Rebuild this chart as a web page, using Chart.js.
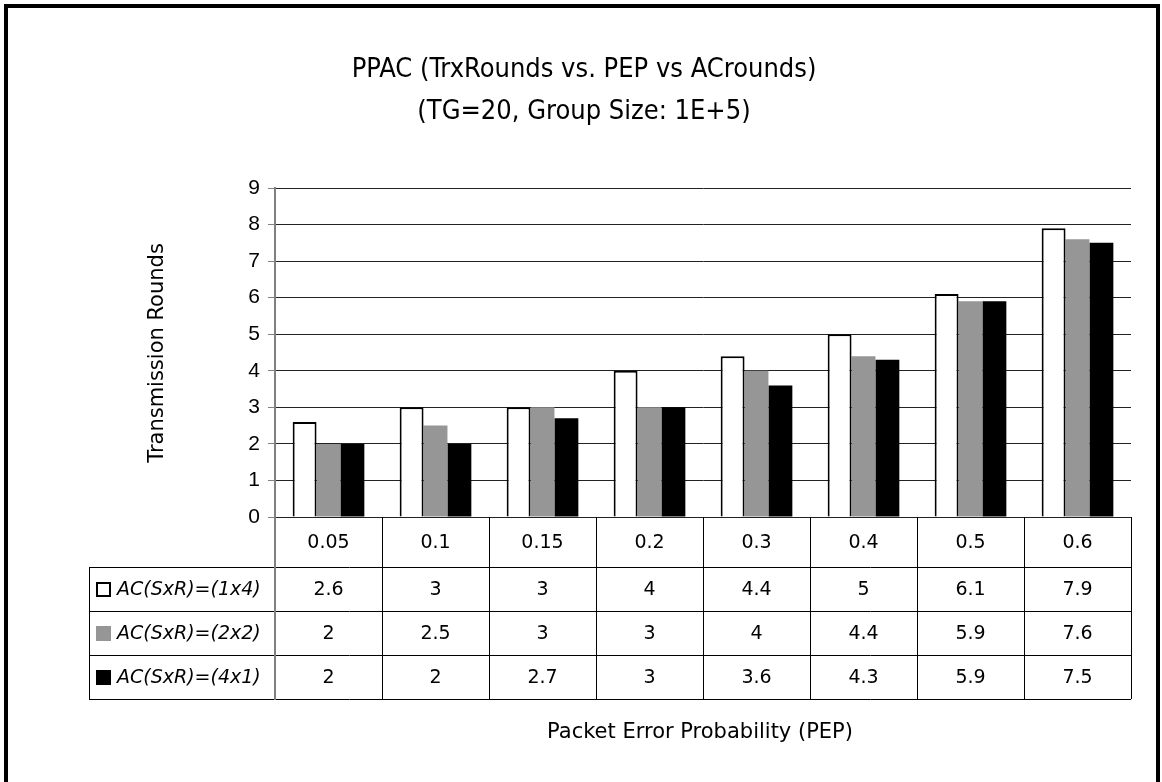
<!DOCTYPE html>
<html>
<head>
<meta charset="utf-8">
<script src="https://cdn.jsdelivr.net/npm/chart.js@4"></script>
<style>
  html, body { margin: 0; padding: 0; background: #fff; }
  #wrap { width: 1162px; height: 782px; }
</style>
</head>
<body>
<div id="wrap"><canvas id="chart" width="1162" height="782"></canvas></div>
<script>
// data
const pepLabels = ['0.05', '0.1', '0.15', '0.2', '0.3', '0.4', '0.5', '0.6'];
const seriesNames = ['AC(SxR)=(1x4)', 'AC(SxR)=(2x2)', 'AC(SxR)=(4x1)'];
const ac1x4 = [2.6, 3, 3, 4, 4.4, 5, 6.1, 7.9];
const ac2x2 = [2, 2.5, 3, 3, 4, 4.4, 5.9, 7.6];
const ac4x1 = [2, 2, 2.7, 3, 3.6, 4.3, 5.9, 7.5];
const yTicks = [0, 1, 2, 3, 4, 5, 6, 7, 8, 9];
const titleLines = ['PPAC (TrxRounds vs. PEP vs ACrounds)', '(TG=20, Group Size: 1E+5)'];
const yTitle = 'Transmission Rounds';
const xTitle = 'Packet Error Probability (PEP)';

const fills = ['#ffffff', '#969696', '#000000'];
const comic = '"DejaVu Sans", sans-serif';

// table under the plot, drawn from the chart's own x scale
const tablePlugin = {
  id: 'dataTable',
  afterDraw(chart) {
    const ctx = chart.ctx;
    const area = chart.chartArea;
    const xs = chart.scales.x;
    const n = pepLabels.length;
    const cw = (area.right - area.left) / n;
    const top = area.bottom;
    const headH = 50, rowH = 44;
    const legLeft = 89;
    const rows = [ac1x4, ac2x2, ac4x1];
    const bottom = top + headH + rowH * rows.length;

    ctx.save();
    ctx.lineWidth = 1;
    ctx.strokeStyle = '#000';
    // horizontal lines
    for (let r = 0; r <= rows.length; r++) {
      const y = Math.round(top + headH + r * rowH) + 0.5;
      ctx.beginPath();
      ctx.moveTo(legLeft, y);
      ctx.lineTo(area.right, y);
      ctx.stroke();
    }
    // vertical lines between categories
    for (let i = 1; i <= n; i++) {
      const x = Math.round(area.left + i * cw) + 0.5;
      ctx.beginPath();
      ctx.moveTo(x, top);
      ctx.lineTo(x, bottom);
      ctx.stroke();
    }
    // left edge of legend column
    ctx.beginPath();
    ctx.moveTo(legLeft + 0.5, top + headH);
    ctx.lineTo(legLeft + 0.5, bottom);
    ctx.stroke();
    // y axis continues down through the table
    ctx.strokeStyle = '#808080';
    ctx.lineWidth = 2;
    ctx.beginPath();
    ctx.moveTo(area.left, area.top);
    ctx.lineTo(area.left, bottom + 1);
    ctx.stroke();

    ctx.fillStyle = '#000';
    ctx.textAlign = 'center';
    ctx.textBaseline = 'middle';
    ctx.font = '19px ' + comic;
    pepLabels.forEach((lab, i) => {
      ctx.fillText(lab, xs.getPixelForValue(i), top + headH / 2 + 1);
    });
    rows.forEach((vals, r) => {
      const yc = top + headH + r * rowH + rowH / 2 + 1;
      vals.forEach((v, i) => {
        ctx.fillText(String(v), xs.getPixelForValue(i), yc);
      });
      // legend key
      const sx = legLeft + 7, sy = yc - 8;
      ctx.fillStyle = fills[r];
      ctx.fillRect(sx, sy, 15, 15);
      if (r === 0) {
        ctx.strokeStyle = '#000';
        ctx.lineWidth = 2;
        ctx.strokeRect(sx + 1, sy + 1, 13, 13);
      }
      ctx.fillStyle = '#000';
      ctx.textAlign = 'left';
      ctx.font = 'oblique 19px ' + comic;
      ctx.fillText(seriesNames[r], sx + 21, yc);
      ctx.textAlign = 'center';
      ctx.font = '19px ' + comic;
    });

    // titles
    ctx.font = '27px "DejaVu Sans Condensed", ' + comic;
    ctx.fillText(titleLines[0], 584, 70);
    ctx.fillText(titleLines[1], 584, 112);
    ctx.font = '21px ' + comic;
    ctx.fillText(xTitle, 700, 733);
    ctx.save();
    ctx.translate(158, 353);
    ctx.rotate(-Math.PI / 2);
    ctx.fillText(yTitle, 0, 0);
    ctx.restore();

    // outer frame
    ctx.strokeStyle = '#000';
    ctx.lineWidth = 4;
    ctx.strokeRect(6, 6, 1152, 800);
    ctx.restore();
  }
};

new Chart(document.getElementById('chart'), {
  type: 'bar',
  data: {
    labels: pepLabels,
    datasets: [
      { label: seriesNames[0], data: ac1x4, backgroundColor: fills[0], borderColor: '#000', borderWidth: 2 },
      { label: seriesNames[1], data: ac2x2, backgroundColor: fills[1], borderWidth: 0 },
      { label: seriesNames[2], data: ac4x1, backgroundColor: fills[2], borderWidth: 0 }
    ]
  },
  options: {
    responsive: false,
    animation: false,
    devicePixelRatio: 1,
    layout: { padding: { left: 0, right: 31, top: 188, bottom: 265 } },
    datasets: { bar: { barPercentage: 1, categoryPercentage: 0.67 } },
    plugins: { legend: { display: false }, title: { display: false }, tooltip: { enabled: false } },
    scales: {
      x: { display: false },
      y: {
        min: 0, max: 9,
        afterFit(scale) { scale.width = 275; },
        afterBuildTicks(scale) { scale.ticks = yTicks.map(v => ({ value: v })); },
        ticks: { color: '#000', font: { family: '"Liberation Sans", Arial', size: 21 }, padding: 8 },
        grid: { color: '#222', tickLength: 7, tickColor: '#808080' },
        border: { color: '#808080', width: 2 }
      }
    }
  },
  plugins: [tablePlugin]
});
</script>
</body>
</html>
